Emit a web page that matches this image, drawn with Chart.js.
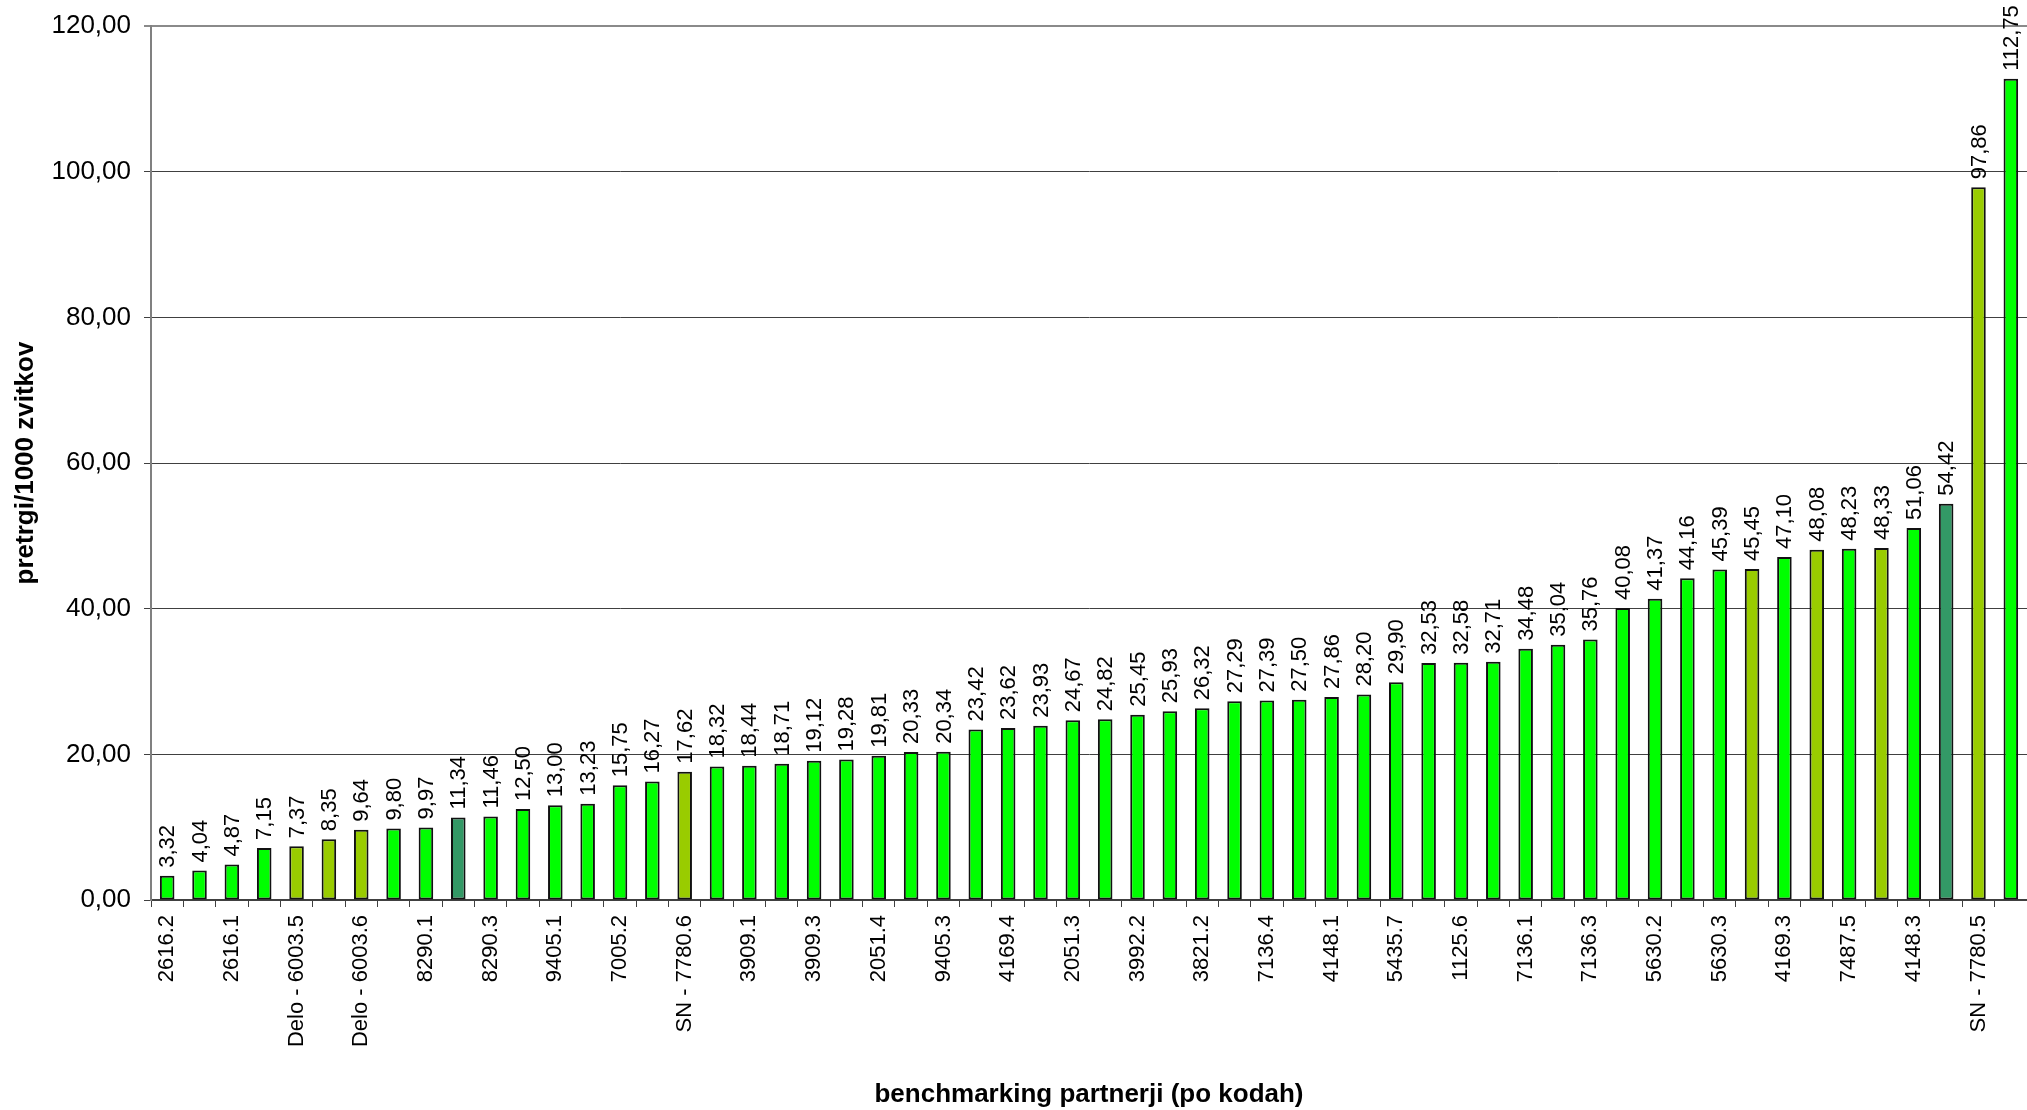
<!DOCTYPE html>
<html>
<head>
<meta charset="utf-8">
<title>pretrgi/1000 zvitkov</title>
<script src="https://cdn.jsdelivr.net/npm/chart.js@4.4.1/dist/chart.umd.min.js"></script>
<style>
  html, body { margin: 0; padding: 0; background: #fff; }
  #wrap { width: 2027px; height: 1110px; }
</style>
</head>
<body>
<div id="wrap"><canvas id="chart" width="2027" height="1110"></canvas></div>
<script>
// benchmarking partners, sorted by breaks per 1000 rolls
// (only every second code is printed on the axis)
const partnerCodes = [
  '2616.2', '', '2616.1', '', 'Delo - 6003.5', '', 'Delo - 6003.6', '', '8290.1', '',
  '8290.3', '', '9405.1', '', '7005.2', '', 'SN - 7780.6', '', '3909.1', '',
  '3909.3', '', '2051.4', '', '9405.3', '', '4169.4', '', '2051.3', '',
  '3992.2', '', '3821.2', '', '7136.4', '', '4148.1', '', '5435.7', '',
  '1125.6', '', '7136.1', '', '7136.3', '', '5630.2', '', '5630.3', '',
  '4169.3', '', '7487.5', '', '4148.3', '', 'SN - 7780.5', ''
];

const breaksPer1000 = [
  3.32, 4.04, 4.87, 7.15, 7.37, 8.35, 9.64, 9.80, 9.97, 11.34,
  11.46, 12.50, 13.00, 13.23, 15.75, 16.27, 17.62, 18.32, 18.44, 18.71,
  19.12, 19.28, 19.81, 20.33, 20.34, 23.42, 23.62, 23.93, 24.67, 24.82,
  25.45, 25.93, 26.32, 27.29, 27.39, 27.50, 27.86, 28.20, 29.90, 32.53,
  32.58, 32.71, 34.48, 35.04, 35.76, 40.08, 41.37, 44.16, 45.39, 45.45,
  47.10, 48.08, 48.23, 48.33, 51.06, 54.42, 97.86, 112.75
];

// partner group: g = regular, o = highlighted group, d = reference partner
const partnerGroup = [
  'g', 'g', 'g', 'g', 'o', 'o', 'o', 'g', 'g', 'd',
  'g', 'g', 'g', 'g', 'g', 'g', 'o', 'g', 'g', 'g',
  'g', 'g', 'g', 'g', 'g', 'g', 'g', 'g', 'g', 'g',
  'g', 'g', 'g', 'g', 'g', 'g', 'g', 'g', 'g', 'g',
  'g', 'g', 'g', 'g', 'g', 'g', 'g', 'g', 'g', 'o',
  'g', 'o', 'g', 'o', 'g', 'd', 'o', 'g'
];

const yTicks = [0, 20, 40, 60, 80, 100, 120];

const groupColors = { g: '#00ff00', o: '#99cc00', d: '#339966' };
const FONT = "'Liberation Sans', Arial, Helvetica, sans-serif";

const fmt = v => v.toFixed(2).replace('.', ',');

// vertical value labels above every bar
const barValueLabels = {
  id: 'barValueLabels',
  afterDatasetsDraw(chart) {
    const { ctx } = chart;
    const meta = chart.getDatasetMeta(0);
    ctx.save();
    ctx.fillStyle = '#000';
    ctx.font = `22px ${FONT}`;
    ctx.textAlign = 'left';
    ctx.textBaseline = 'middle';
    meta.data.forEach((bar, i) => {
      ctx.save();
      ctx.translate(bar.x, bar.y - 8);
      ctx.rotate(-Math.PI / 2);
      ctx.fillText(fmt(breaksPer1000[i]), 0, 1);
      ctx.restore();
    });
    ctx.restore();
  }
};

new Chart(document.getElementById('chart'), {
  type: 'bar',
  data: {
    labels: partnerCodes,
    datasets: [{
      data: breaksPer1000,
      backgroundColor: partnerGroup.map(g => groupColors[g]),
      borderColor: '#111',
      borderWidth: 2,
      borderSkipped: false,
      barPercentage: 0.45,
      categoryPercentage: 1
    }]
  },
  options: {
    responsive: false,
    devicePixelRatio: 1,
    animation: false,
    layout: { padding: { top: 26, right: 0, bottom: 0, left: 0 } },
    plugins: {
      legend: { display: false },
      tooltip: { enabled: false }
    },
    scales: {
      x: {
        offset: true,
        grid: {
          offset: true,
          drawOnChartArea: false,
          drawTicks: true,
          tickLength: 7,
          color: '#404040'
        },
        border: { color: '#404040', width: 2 },
        ticks: {
          autoSkip: false,
          maxRotation: 90,
          minRotation: 90,
          padding: 8,
          color: '#000',
          font: { family: FONT, size: 22 }
        },
        title: {
          display: true,
          text: 'benchmarking partnerji (po kodah)',
          color: '#000',
          font: { family: FONT, size: 26, weight: 'bold' },
          padding: { top: 0, bottom: 0 }
        },
        afterFit: s => {
          s.height = 210;
          // plot runs right up to the canvas edge
          s.paddingLeft = 0;
          s.paddingRight = 0;
        }
      },
      y: {
        min: yTicks[0],
        max: yTicks[yTicks.length - 1],
        afterBuildTicks: s => { s.ticks = yTicks.map(v => ({ value: v })); },
        grid: {
          color: ctx => ctx.tick && ctx.tick.value === 120 ? '#8a8a8a' : '#404040',
          lineWidth: ctx => ctx.tick && ctx.tick.value === 120 ? 2 : 1,
          tickLength: 7,
          drawTicks: true
        },
        border: { color: '#808080', width: 2 },
        ticks: {
          padding: 13,
          color: '#000',
          font: { family: FONT, size: 26 },
          callback: v => fmt(v)
        },
        title: {
          display: true,
          text: 'pretrgi/1000 zvitkov',
          color: '#000',
          font: { family: FONT, size: 26, weight: 'bold' },
          padding: { top: 10, bottom: 0 }
        },
        afterFit: s => {
          s.width = 151;
          s.paddingTop = 0;
          s.paddingBottom = 0;
        }
      }
    }
  },
  plugins: [barValueLabels]
});
</script>
</body>
</html>
